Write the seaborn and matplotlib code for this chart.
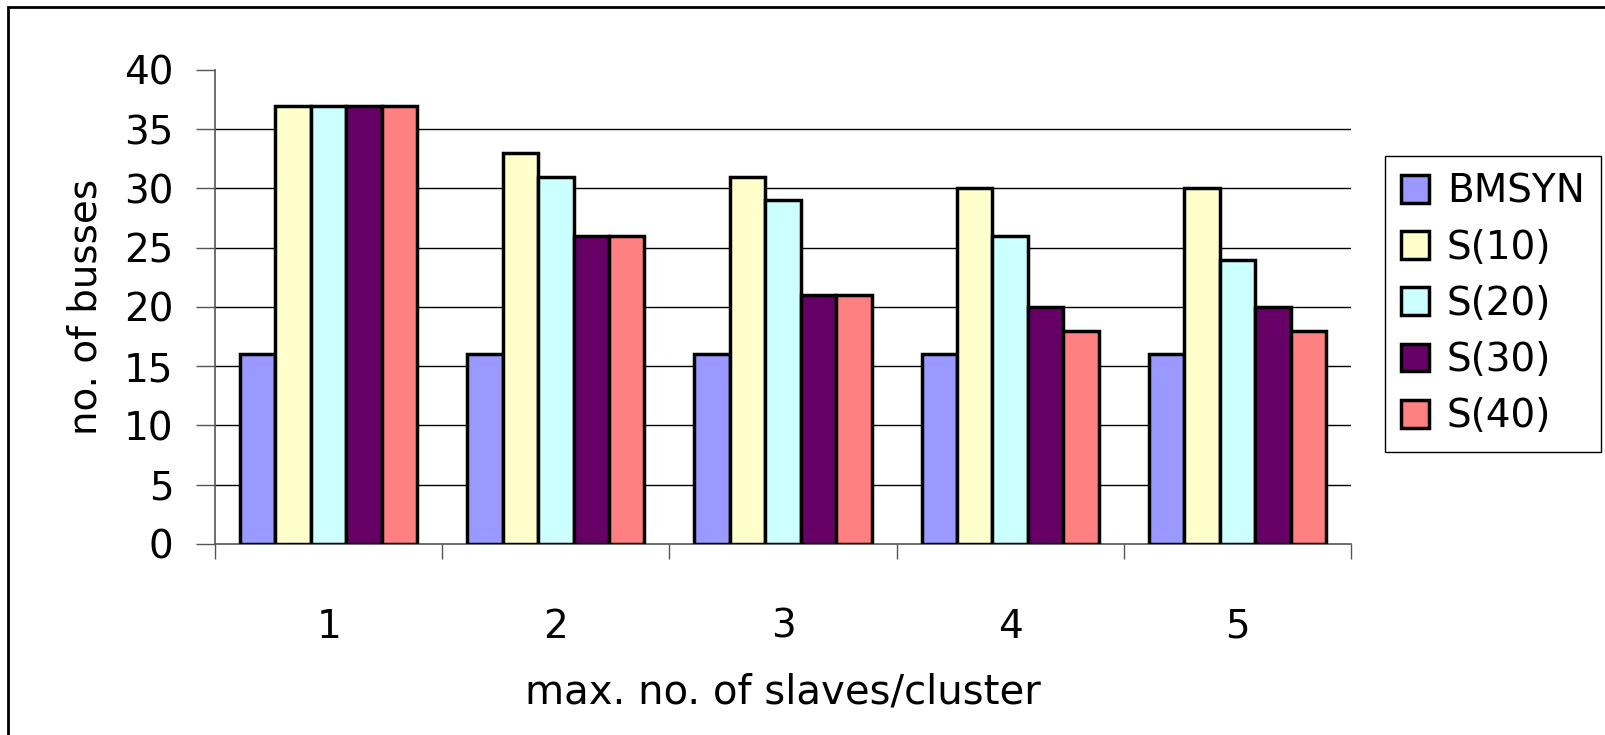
import pandas as pd
import numpy as np
import matplotlib
matplotlib.use('Agg')
import matplotlib.pyplot as plt
import seaborn as sns
from matplotlib.patches import Rectangle
from matplotlib.ticker import FixedLocator

# ============================================
# 数据
# ============================================
CATEGORIES = ['1', '2', '3', '4', '5']
SERIES = ['BMSYN', 'S(10)', 'S(20)', 'S(30)', 'S(40)']
BMSYN = [16, 16, 16, 16, 16]
S10 = [37, 33, 31, 30, 30]
S20 = [37, 31, 29, 26, 24]
S30 = [37, 26, 21, 20, 20]
S40 = [37, 26, 21, 18, 18]
COLORS = ['#9999FF', '#FFFFCC', '#CCFFFF', '#660066', '#FF8080']

rows = []
for name, vals in zip(SERIES, [BMSYN, S10, S20, S30, S40]):
    for cat, v in zip(CATEGORIES, vals):
        rows.append({'slaves': cat, 'busses': v, 'series': name})
df = pd.DataFrame(rows)

sns.set_theme(style='white')
plt.rcParams['font.family'] = ['DejaVu Sans']
plt.rcParams['text.color'] = 'black'
plt.rcParams['axes.labelcolor'] = 'black'
plt.rcParams['xtick.color'] = 'black'
plt.rcParams['ytick.color'] = 'black'

FS = 28

fig = plt.figure(figsize=(16.05, 7.35), dpi=100)
ax = fig.add_axes([0.134, 0.2599, 0.8417 - 0.134, 0.9048 - 0.2599])

sns.barplot(data=df, x='slaves', y='busses', hue='series', order=CATEGORIES,
            hue_order=SERIES, palette=COLORS, edgecolor='black', linewidth=2.5,
            width=0.78, saturation=1, ax=ax, zorder=3)

ax.set_xlim(-0.5, 4.5)
ax.set_ylim(0, 40)
ax.set_yticks(np.arange(0, 41, 5))
ax.tick_params(axis='y', labelsize=FS, length=14, width=1, color='#555555',
               labelcolor='black', direction='out', pad=16, left=True)
ax.tick_params(axis='x', which='major', labelsize=FS, length=0, pad=46,
               labelcolor='black')
ax.xaxis.set_minor_locator(FixedLocator(np.arange(-0.5, 4.6, 1)))
ax.tick_params(axis='x', which='minor', length=11, width=1, color='#555555',
               direction='out', bottom=True)

ax.yaxis.grid(True, color='black', linewidth=1)
ax.set_axisbelow(True)
gl = ax.yaxis.get_gridlines()
gl[0].set_visible(False)
gl[-1].set_visible(False)

for s in ['top', 'right']:
    ax.spines[s].set_visible(False)
for s in ['left', 'bottom']:
    ax.spines[s].set_color('#555555')
    ax.spines[s].set_linewidth(1.2)

ax.set_xlabel('max. no. of slaves/cluster', fontsize=29, labelpad=19)
ax.set_ylabel('no. of busses', fontsize=FS, labelpad=14)

ax.legend(loc='upper left', bbox_to_anchor=(1385 / 1605, 1 - 156 / 735),
          bbox_transform=fig.transFigure, fontsize=FS, frameon=True,
          fancybox=False, edgecolor='black', framealpha=1, borderaxespad=0,
          borderpad=0.42, labelspacing=0.47, handlelength=0.72,
          handleheight=0.72, handletextpad=0.45)
ax.get_legend().get_frame().set_linewidth(1)

# 外框（只露出左边和上边）
fig.patches.append(Rectangle((8 / 1605, -0.1), 1.2, 1.1 - 7 / 735, fill=False,
                             edgecolor='black', linewidth=2,
                             transform=fig.transFigure, figure=fig))

fig.savefig('out.png', dpi=100)
